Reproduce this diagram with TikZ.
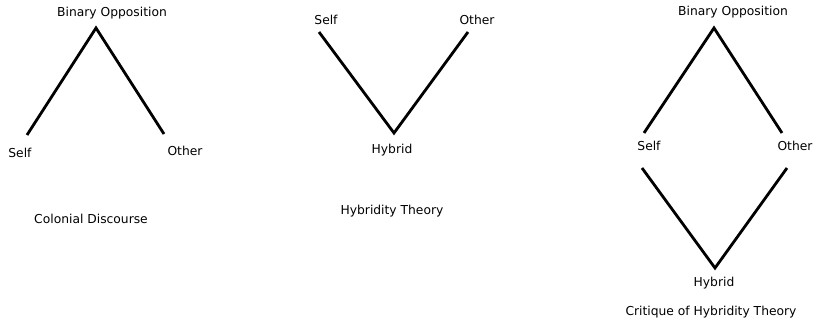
\documentclass[tikz,border=0pt]{standalone}
\usepackage{fontspec}
\setmainfont{DejaVu Sans}
\begin{document}
\begin{tikzpicture}[x=1pt,y=-1pt,
  lbl/.style={inner sep=0pt,font=\fontsize{12.3}{14}\selectfont},
  stroke/.style={line width=2.8pt,line cap=butt}]
\useasboundingbox (0,0) rectangle (816,323);
% Panel 1
\node[lbl] (p1bo) at (112,13) {Binary Opposition};
\node[lbl] (p1self) at (20,153) {Self};
\node[lbl] (p1oth) at (185,151) {Other};
\node[lbl] (p1cap) at (91,219) {Colonial Discourse};
\coordinate (p1a) at (96,28);
\coordinate (p1l) at (27,135);
\coordinate (p1r) at (164,134);
\draw[stroke] (p1l) -- (p1a) -- (p1r);
% Panel 2
\node[lbl] (p2self) at (326,20) {Self};
\node[lbl] (p2oth) at (477,20) {Other};
\node[lbl] (p2hyb) at (392,150) {Hybrid};
\node[lbl] (p2cap) at (392,211) {Hybridity Theory};
\coordinate (p2l) at (319,32);
\coordinate (p2b) at (394,133);
\coordinate (p2r) at (468,32);
\draw[stroke] (p2l) -- (p2b) -- (p2r);
% Panel 3
\node[lbl] (p3bo) at (733,12) {Binary Opposition};
\node[lbl] (p3self) at (649,146) {Self};
\node[lbl] (p3oth) at (795,146) {Other};
\node[lbl] (p3hyb) at (714,283) {Hybrid};
\node[lbl] (p3cap) at (711,312) {Critique of Hybridity Theory};
\coordinate (p3a) at (714,28);
\coordinate (p3l) at (644,133);
\coordinate (p3r) at (782,133);
\draw[stroke] (p3l) -- (p3a) -- (p3r);
\coordinate (p3l2) at (642,168);
\coordinate (p3b) at (715,268);
\coordinate (p3r2) at (787,168);
\draw[stroke] (p3l2) -- (p3b) -- (p3r2);
\end{tikzpicture}
\end{document}
